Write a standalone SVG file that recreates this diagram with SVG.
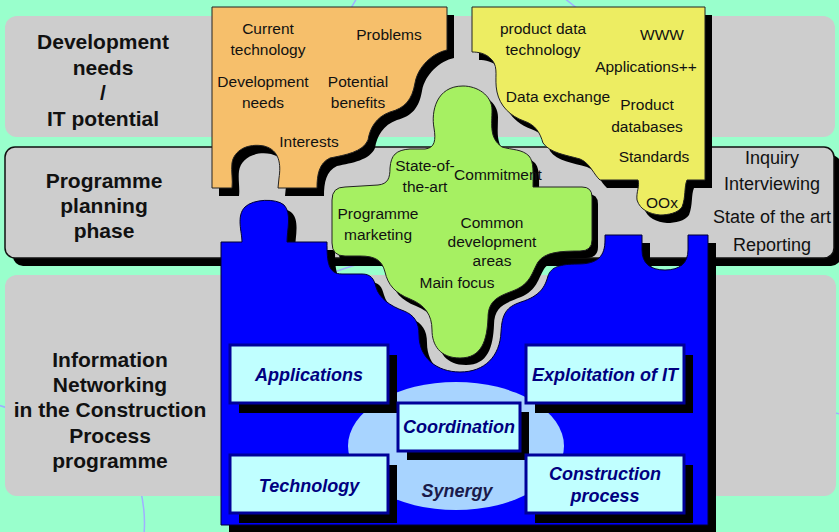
<svg xmlns="http://www.w3.org/2000/svg" width="839" height="532" viewBox="0 0 839 532">
<style>
.band{fill:#CDCDCD}
.lbl{font-family:"Liberation Sans",Arial,sans-serif;font-weight:bold;font-size:21px;fill:#111;text-anchor:middle}
.pt{font-family:"Liberation Sans",Arial,sans-serif;font-size:15.5px;fill:#111;text-anchor:middle}
.rt{font-family:"Liberation Sans",Arial,sans-serif;font-size:18px;fill:#111;text-anchor:middle}
.bx{fill:#C0FFFF;stroke:#000099;stroke-width:3}
.bxs{fill:#000}
.bt{font-family:"Liberation Sans",Arial,sans-serif;font-weight:bold;font-style:italic;font-size:18px;fill:#000080;text-anchor:middle}
.piece{stroke:#222;stroke-width:1}
.faint{fill:none;stroke:#A0B0FF;stroke-width:1.5}
</style>
<defs>
<path id="orangeP" d="M212 7 L447 7 L447 50 C433 53 418 66 415 83 C412 100 405 108 390 112 C376 117 370 128 368 140 C363 152 345 155 330 158 C319 163 317 175 317 188 L278 188 L279 178 C281 165 280 150 264 146 C248 143 234 150 232 163 C231 172 233 180 232 188 L212 188 Z"/>
<path id="yellowP" d="M472 7 L705 7 L705 180 L687 180 C684 187 686 197 682 207 C678 213 668 215 660 215 C650 214 640 210 637 200 C636 192 640 186 638 180 L600 180 C594 175 590 163 580 159 C566 155 550 153 543 143 C540 133 536 125 524 121 C510 116 500 106 497 92 C494 78 499 68 492 60 C486 53 478 52 472 52 Z"/>
<path id="greenP" d="M463 86 C477 86 492 95 492 110 C492 125 489 138 502 147 C512 150 522 149 529 156 C534 162 533 172 533 187 L582 187 Q592 187 592 197 L592 240 Q592 251 580 251 C560 251 545 252 538 262 C532 272 531 283 515 290 C500 296 488 299 488 318 C487 340 482 358 460 358 C440 358 432 345 432 330 C432 315 425 305 410 299 C395 293 388 285 385 272 C382 260 375 256 360 256 L345 256 Q332 256 332 243 L332 200 Q332 187 345 187 L378 185 C388 184 390 178 390 168 C391 155 396 150 410 149 L425 149 C435 148 436 140 434 128 C431 112 436 86 463 86 Z"/>
<path id="blueP" d="M221 242 L242 242 C242 232 236 216 245 207 C253 199 276 198 284 205 C292 213 287 230 287 242 L327 242 C327 262 328 274 342 274 L362 274 C371 274 374 279 376 287 C379 298 390 306 404 311 C414 315 419 322 419 335 C419 358 437 372 460 372 C485 372 500 356 501 332 C502 314 506 307 521 302 C540 296 545 287 548 276 C551 267 560 264 578 264 C598 264 605 256 605 240 L605 235 L642 235 L642 250 C642 263 650 270 665 270 C680 270 688 263 688 250 L688 235 L708 235 L708 525 L221 525 Z"/>
</defs>
<rect x="0" y="0" width="839" height="532" fill="#99FFCC"/>
<g id="background-lines">
<path class="faint" d="M346 17 Q352 6 357 -2"/>
<path class="faint" d="M564 -2 Q572 4 586 16"/>
<path class="faint" d="M320 278 Q338 270 362 263"/>
<path class="faint" d="M-2 405 Q4 407 12 409"/>
<path class="faint" d="M140 488 Q146 512 144 534"/>
<path class="faint" d="M830 412 L840 414"/>
</g>
<g id="band-development">
<rect class="band" x="5" y="16" width="830" height="121" rx="12"/>
<text class="lbl" x="103" y="49">Development</text>
<text class="lbl" x="103" y="75">needs</text>
<text class="lbl" x="103" y="100">/</text>
<text class="lbl" x="103" y="126">IT potential</text>
</g>
<g id="band-planning">
<rect x="13" y="155" width="828" height="111" rx="10" fill="#000"/>
<rect class="band" x="5" y="147" width="829" height="111" rx="10" stroke="#111" stroke-width="1.5"/>
<text class="lbl" x="104" y="188">Programme</text>
<text class="lbl" x="104" y="213">planning</text>
<text class="lbl" x="104" y="238">phase</text>
<text class="rt" x="772" y="164">Inquiry</text>
<text class="rt" x="772" y="190">Interviewing</text>
<text class="rt" x="772" y="223">State of the art</text>
<text class="rt" x="772" y="251">Reporting</text>
</g>
<g id="band-programme">
<rect class="band" x="5" y="275" width="831" height="221" rx="12"/>
<text class="lbl" x="110" y="367">Information</text>
<text class="lbl" x="110" y="392">Networking</text>
<text class="lbl" x="110" y="417">in the Construction</text>
<text class="lbl" x="110" y="443">Process</text>
<text class="lbl" x="110" y="468">programme</text>
</g>
<g id="piece-needs">
<use href="#orangeP" transform="translate(7,8)" fill="#000"/>
<use href="#orangeP" class="piece" fill="#F6BF6B"/>
<text class="pt" x="268" y="34">Current</text>
<text class="pt" x="268" y="55">technology</text>
<text class="pt" x="389" y="40">Problems</text>
<text class="pt" x="263" y="87">Development</text>
<text class="pt" x="263" y="108">needs</text>
<text class="pt" x="358" y="87">Potential</text>
<text class="pt" x="358" y="108">benefits</text>
<text class="pt" x="309" y="147">Interests</text>
</g>
<g id="piece-it">
<use href="#yellowP" transform="translate(7,8)" fill="#000"/>
<use href="#yellowP" class="piece" fill="#EDED62"/>
<text class="pt" x="543" y="34">product data</text>
<text class="pt" x="543" y="55">technology</text>
<text class="pt" x="662" y="40">WWW</text>
<text class="pt" x="646" y="72">Applications++</text>
<text class="pt" x="558" y="102">Data exchange</text>
<text class="pt" x="647" y="110">Product</text>
<text class="pt" x="647" y="132">databases</text>
<text class="pt" x="654" y="162">Standards</text>
<text class="pt" x="662" y="208">OOx</text>
</g>
<g id="piece-programme">
<use href="#blueP" transform="translate(8,8)" fill="#000"/>
<use href="#blueP" fill="#0000FF" stroke="#000033" stroke-width="1"/>
<ellipse cx="456" cy="446" rx="108" ry="64" fill="#A8D4FF"/>
</g>
<g id="box-applications">
<rect class="bxs" x="239" y="355" width="158" height="58"/>
<rect class="bx" x="230" y="345" width="158" height="58"/>
<text class="bt" x="309" y="381">Applications</text>
</g>
<g id="box-exploitation">
<rect class="bxs" x="535" y="355" width="158" height="58"/>
<rect class="bx" x="526" y="345" width="158" height="58"/>
<text class="bt" x="605" y="381">Exploitation of IT</text>
</g>
<g id="box-coordination">
<rect class="bxs" x="407" y="412" width="122" height="48"/>
<rect class="bx" x="398" y="403" width="122" height="48"/>
<text class="bt" x="459" y="433">Coordination</text>
</g>
<g id="box-technology">
<rect class="bxs" x="239" y="465" width="158" height="58"/>
<rect class="bx" x="230" y="455" width="158" height="58"/>
<text class="bt" x="309" y="492">Technology</text>
</g>
<g id="box-construction">
<rect class="bxs" x="535" y="465" width="158" height="58"/>
<rect class="bx" x="526" y="455" width="158" height="58"/>
<text class="bt" x="605" y="480">Construction</text>
<text class="bt" x="605" y="502">process</text>
</g>
<g id="synergy">
<text class="bt" x="457" y="497" style="fill:#1A1A4A">Synergy</text>
</g>
<g id="piece-planning">
<use href="#greenP" transform="translate(6,7)" fill="#000"/>
<use href="#greenP" class="piece" fill="#A6F062"/>
<text class="pt" x="425" y="171">State-of-</text>
<text class="pt" x="425" y="192">the-art</text>
<text class="pt" x="498" y="180">Commitment</text>
<text class="pt" x="378" y="219">Programme</text>
<text class="pt" x="378" y="240">marketing</text>
<text class="pt" x="492" y="228">Common</text>
<text class="pt" x="492" y="247">development</text>
<text class="pt" x="492" y="266">areas</text>
<text class="pt" x="457" y="288">Main focus</text>
</g>
</svg>
